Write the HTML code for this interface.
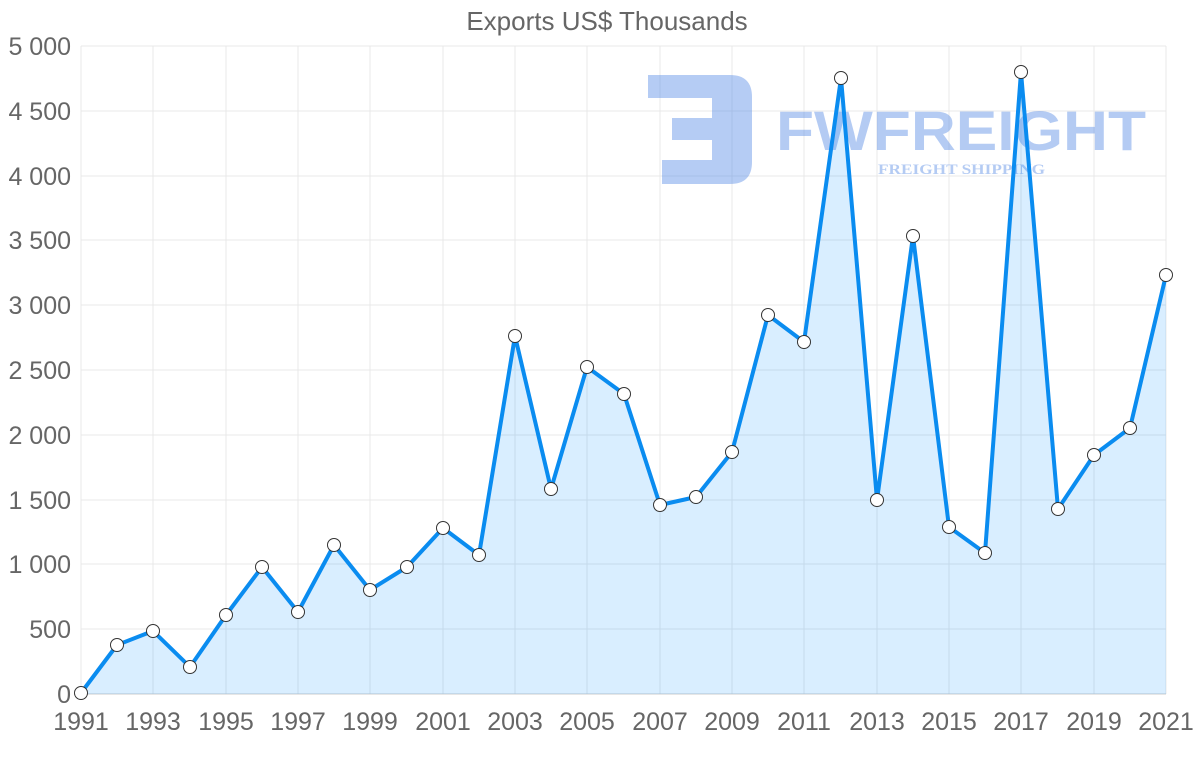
<!DOCTYPE html>
<html><head><meta charset="utf-8"><style>
body{margin:0;background:#fff;}
svg{display:block;font-family:"Liberation Sans",sans-serif;}
</style></head><body>
<svg width="1200" height="763" viewBox="0 0 1200 763">
<text x="607" y="30" text-anchor="middle" font-size="26" fill="#666">Exports US$ Thousands</text>
<g stroke="#e8e8e8" stroke-width="1">
<line x1="81" y1="46" x2="1166" y2="46"/><line x1="81" y1="111" x2="1166" y2="111"/><line x1="81" y1="176" x2="1166" y2="176"/><line x1="81" y1="240" x2="1166" y2="240"/><line x1="81" y1="305" x2="1166" y2="305"/><line x1="81" y1="370" x2="1166" y2="370"/><line x1="81" y1="435" x2="1166" y2="435"/><line x1="81" y1="500" x2="1166" y2="500"/><line x1="81" y1="564" x2="1166" y2="564"/><line x1="81" y1="629" x2="1166" y2="629"/>
<line x1="81" y1="46" x2="81" y2="694"/><line x1="153" y1="46" x2="153" y2="694"/><line x1="226" y1="46" x2="226" y2="694"/><line x1="298" y1="46" x2="298" y2="694"/><line x1="370" y1="46" x2="370" y2="694"/><line x1="443" y1="46" x2="443" y2="694"/><line x1="515" y1="46" x2="515" y2="694"/><line x1="587" y1="46" x2="587" y2="694"/><line x1="660" y1="46" x2="660" y2="694"/><line x1="732" y1="46" x2="732" y2="694"/><line x1="804" y1="46" x2="804" y2="694"/><line x1="877" y1="46" x2="877" y2="694"/><line x1="949" y1="46" x2="949" y2="694"/><line x1="1021" y1="46" x2="1021" y2="694"/><line x1="1094" y1="46" x2="1094" y2="694"/><line x1="1166" y1="46" x2="1166" y2="694"/>
</g>
<line x1="81" y1="694" x2="1166" y2="694" stroke="#ccc"/>
<g font-size="25" fill="#666" text-anchor="end">
<text x="71" y="55">5 000</text><text x="71" y="120">4 500</text><text x="71" y="185">4 000</text><text x="71" y="249">3 500</text><text x="71" y="314">3 000</text><text x="71" y="379">2 500</text><text x="71" y="444">2 000</text><text x="71" y="509">1 500</text><text x="71" y="573">1 000</text><text x="71" y="638">500</text><text x="71" y="703">0</text>
</g>
<g font-size="25" fill="#666" text-anchor="middle">
<text x="81" y="730">1991</text><text x="153" y="730">1993</text><text x="226" y="730">1995</text><text x="298" y="730">1997</text><text x="370" y="730">1999</text><text x="443" y="730">2001</text><text x="515" y="730">2003</text><text x="587" y="730">2005</text><text x="660" y="730">2007</text><text x="732" y="730">2009</text><text x="804" y="730">2011</text><text x="877" y="730">2013</text><text x="949" y="730">2015</text><text x="1021" y="730">2017</text><text x="1094" y="730">2019</text><text x="1166" y="730">2021</text>
</g>
<g opacity="0.45" fill="#5b8ee6">
<path d="M648 75 H730 Q752 75 752 97 V162 Q752 184 730 184 H662 V160 H712 V140 H672 V118 H712 V98 H648 Z"/>
<text x="776" y="150" font-size="56" font-weight="bold" textLength="370" lengthAdjust="spacingAndGlyphs">FWFREIGHT</text>
<text x="878" y="174" font-size="15" font-family="Liberation Serif,serif" font-weight="bold" textLength="167" lengthAdjust="spacingAndGlyphs">FREIGHT SHIPPING</text>
</g>
<polygon fill="rgba(0,140,255,0.15)" points="81,693 117,645 153,631 190,667 226,615 262,567 298,612 334,545 370,590 407,567 443,528 479,555 515,336 551,489 587,367 624,394 660,505 696,497 732,452 768,315 804,342 841,78 877,500 913,236 949,527 985,553 1021,72 1058,509 1094,455 1130,428 1166,275 1166,694 81,694"/>
<polyline fill="none" stroke="#0a8cf0" stroke-width="4" stroke-linejoin="round" points="81,693 117,645 153,631 190,667 226,615 262,567 298,612 334,545 370,590 407,567 443,528 479,555 515,336 551,489 587,367 624,394 660,505 696,497 732,452 768,315 804,342 841,78 877,500 913,236 949,527 985,553 1021,72 1058,509 1094,455 1130,428 1166,275"/>
<g fill="#fff" stroke="#333" stroke-width="1">
<circle cx="81" cy="693" r="6.5"/><circle cx="117" cy="645" r="6.5"/><circle cx="153" cy="631" r="6.5"/><circle cx="190" cy="667" r="6.5"/><circle cx="226" cy="615" r="6.5"/><circle cx="262" cy="567" r="6.5"/><circle cx="298" cy="612" r="6.5"/><circle cx="334" cy="545" r="6.5"/><circle cx="370" cy="590" r="6.5"/><circle cx="407" cy="567" r="6.5"/><circle cx="443" cy="528" r="6.5"/><circle cx="479" cy="555" r="6.5"/><circle cx="515" cy="336" r="6.5"/><circle cx="551" cy="489" r="6.5"/><circle cx="587" cy="367" r="6.5"/><circle cx="624" cy="394" r="6.5"/><circle cx="660" cy="505" r="6.5"/><circle cx="696" cy="497" r="6.5"/><circle cx="732" cy="452" r="6.5"/><circle cx="768" cy="315" r="6.5"/><circle cx="804" cy="342" r="6.5"/><circle cx="841" cy="78" r="6.5"/><circle cx="877" cy="500" r="6.5"/><circle cx="913" cy="236" r="6.5"/><circle cx="949" cy="527" r="6.5"/><circle cx="985" cy="553" r="6.5"/><circle cx="1021" cy="72" r="6.5"/><circle cx="1058" cy="509" r="6.5"/><circle cx="1094" cy="455" r="6.5"/><circle cx="1130" cy="428" r="6.5"/><circle cx="1166" cy="275" r="6.5"/>
</g>
</svg>
</body></html>
